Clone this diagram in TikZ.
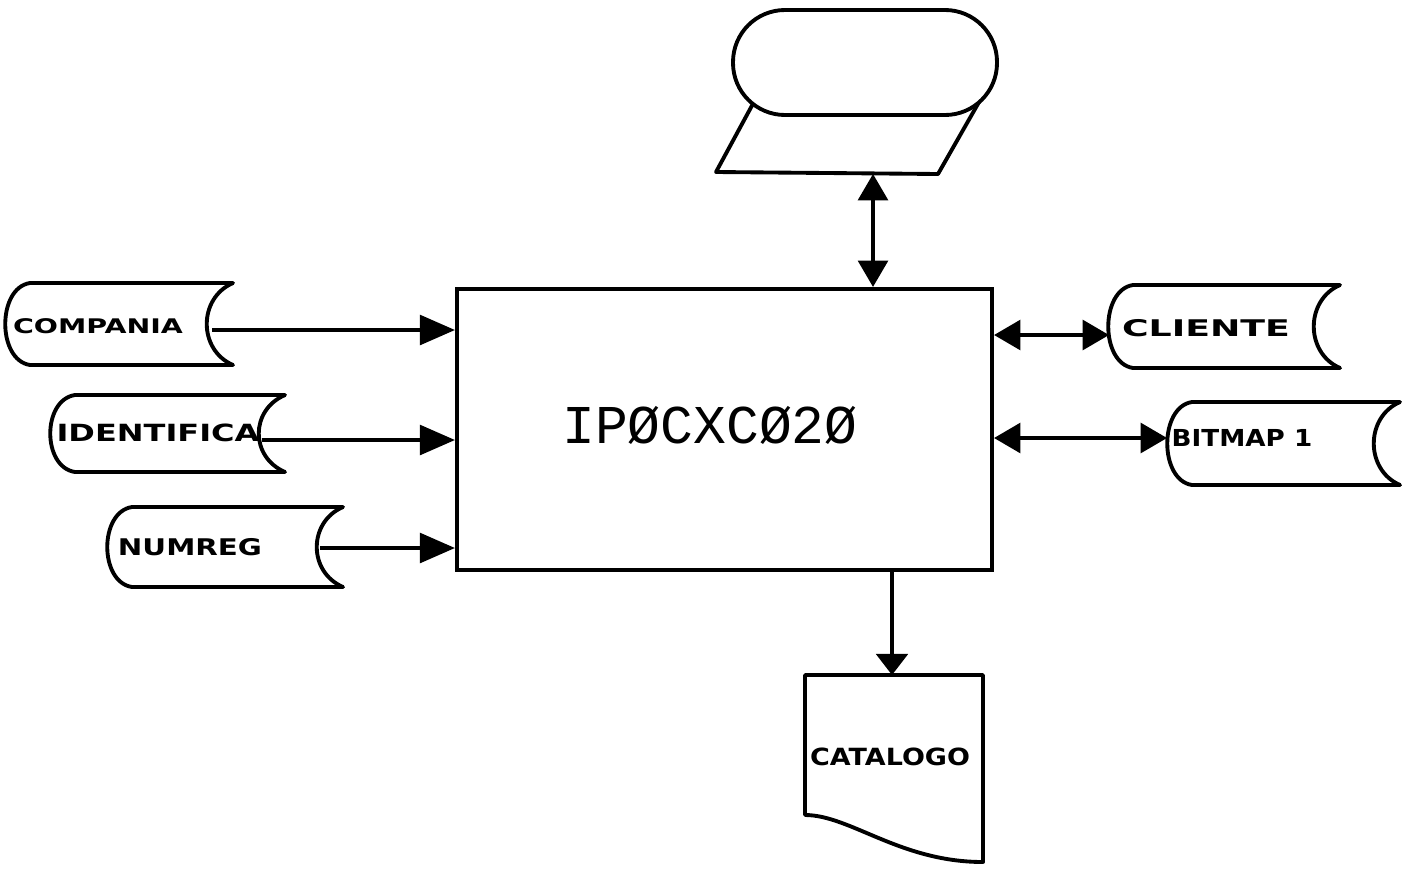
\documentclass[tikz,border=0pt]{standalone}
\usepackage{fontspec}
\usepackage{graphicx}
\setmainfont{DejaVu Sans}
\newfontfamily\procfont{Liberation Mono}
\usetikzlibrary{arrows.meta}
\newcommand{\storeshape}[4]{% xl, yt, xr, yb
  \draw[shapeline, fill=white] ({#1+25},#2) -- (#3,#2)
    .. controls ({#3-35},{#2+15}) and ({#3-35},{#4-15}) .. (#3,#4)
    -- ({#1+25},#4)
    .. controls ({#1-8},{#4-5}) and ({#1-8},{#2+5}) .. cycle;}
\begin{document}
\begin{tikzpicture}[x=0.02cm,y=-0.02cm,
  shapeline/.style={line width=2.2pt, line join=round},
  conn/.style={line width=1.9pt},
  inarrow/.style={conn, -{Triangle[length=20pt,width=17pt]}},
  bothways/.style={conn, {Triangle[length=15pt,width=17pt]}-{Triangle[length=15pt,width=17pt]}},
  outarrow/.style={conn, -{Triangle[length=12pt,width=18pt]}},
  lbl/.style={inner sep=0pt, font=\bfseries}]
\useasboundingbox (0,0) rectangle (1408,869);

% process box
\node[draw, line width=2.4pt, minimum width=10.7cm, minimum height=5.62cm, inner sep=0pt] (proc) at (724.5,429.5) {};
\node[inner sep=0pt] (proclabel) at (710,425) {\resizebox{168pt}{!}{\procfont IPØCXCØ2Ø}};

% display (top)
\draw[shapeline] (755,100) -- (716,172) -- (938,174) -- (983,95) -- cycle;
\draw[shapeline, fill=white, rounded corners=1.04cm] (733,10) rectangle (997,115);
\coordinate (disp) at (873,174);

% left stored data
\storeshape{5}{283}{233}{365}
\node[lbl] (compania) at (98,326) {\resizebox{96.7pt}{8.5pt}{COMPANIA}};
\coordinate (compOut) at (212,330);

\storeshape{50}{395}{285}{472}
\node[lbl] (identifica) at (158,433) {\resizebox{115.5pt}{10pt}{IDENTIFICA}};
\coordinate (idOut) at (262,440);

\storeshape{107}{507}{343}{587}
\node[lbl] (numreg) at (190,547) {\resizebox{82pt}{9.7pt}{NUMREG}};
\coordinate (numOut) at (320,548);

% right stored data
\storeshape{1108}{285}{1340}{368}
\node[lbl] (cliente) at (1206,328) {\resizebox{95.6pt}{9.7pt}{CLIENTE}};
\coordinate (cliIn) at (1109,335);

\storeshape{1167}{402}{1400}{485}
\node[lbl] (bitmap) at (1242,438) {\resizebox{80pt}{9.7pt}{BITMAP 1}};
\coordinate (bitIn) at (1167,438);

% document (bottom)
\draw[shapeline] (805,675) -- (983,675) -- (983,862)
  .. controls (900,862) and (850,815) .. (805,815) -- cycle;
\node[lbl] (catalogo) at (890,757) {\resizebox{91pt}{10pt}{CATALOGO}};
\coordinate (cat) at (892,675);

% connectors
\draw[inarrow] (compOut) -- (compOut -| proc.west);
\draw[inarrow] (idOut) -- (idOut -| proc.west);
\draw[inarrow] (numOut) -- (numOut -| proc.west);
\draw[bothways] (proc.east |- cliIn) -- (cliIn);
\draw[bothways] (proc.east |- bitIn) -- (bitIn);
\draw[bothways] (disp) -- (disp |- proc.north);
\draw[outarrow] (proc.south -| cat) -- (cat);
\end{tikzpicture}
\end{document}
